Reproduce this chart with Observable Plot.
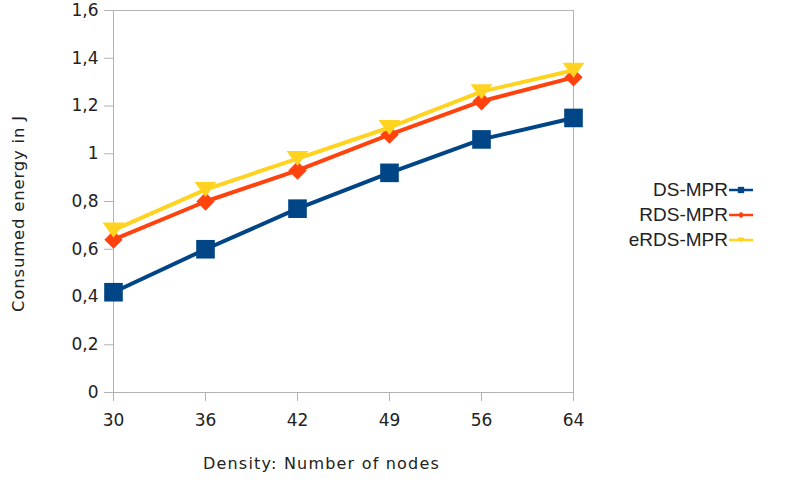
<!DOCTYPE html>
<html><head><meta charset="utf-8">
<script src="https://cdn.jsdelivr.net/npm/d3@7"></script>
<script src="https://cdn.jsdelivr.net/npm/@observablehq/plot@0.6"></script>
<style>
body{margin:0;background:#fff;}
#wrap{position:relative;width:797px;height:486px;font-family:"DejaVu Sans",sans-serif;}
#legend{position:absolute;left:550px;top:177px;width:203px;font-family:"Liberation Sans",Arial,sans-serif;font-size:19px;color:#222;}
.row{display:flex;justify-content:flex-end;align-items:center;height:25px;}
.row svg{margin-left:1px;}
</style></head>
<body><div id="wrap"><div id="legend"></div></div>
<script>
const nodes = [30, 36, 42, 49, 56, 64];
const seriesNames = ["DS-MPR", "RDS-MPR", "eRDS-MPR"];
const dsMpr   = [0.42, 0.60, 0.77, 0.92, 1.06, 1.15];
const rdsMpr  = [0.64, 0.80, 0.93, 1.08, 1.22, 1.32];
const erdsMpr = [0.68, 0.85, 0.98, 1.11, 1.26, 1.35];
const yTicks = [0, 0.2, 0.4, 0.6, 0.8, 1, 1.2, 1.4, 1.6];
const colors = ["#004586", "#ff420e", "#ffd320"];

const values = [dsMpr, rdsMpr, erdsMpr];
const data = [];
seriesNames.forEach((s, i) => nodes.forEach((n, j) => data.push({series: s, nodes: String(n), value: values[i][j]})));

const diamond = {draw(ctx, size){ const r = Math.sqrt(size)/2*1.15; ctx.moveTo(0,-r); ctx.lineTo(r,0); ctx.lineTo(0,r); ctx.lineTo(-r,0); ctx.closePath(); }};
const triDown = {draw(ctx, size){ const w = Math.sqrt(size)*0.62, h = Math.sqrt(size)*0.85; ctx.moveTo(-w,-h/2); ctx.lineTo(w,-h/2); ctx.lineTo(0,h/2); ctx.closePath(); }};
const symbols = [d3.symbolSquare, diamond, triDown];
const sizes = [10.5, 9, 10];

const fmt = d => String(d).replace(".", ",");

const marks = [
  Plot.frame({stroke: "#b3b3b3"}),
  Plot.axisY({ticks: yTicks, tickSize: 9, tickPadding: 6, tickFormat: fmt, stroke: "#b3b3b3", fontSize: 17, label: null}),
  Plot.axisX({tickSize: 9, tickPadding: 12, stroke: "#b3b3b3", fontSize: 17, label: null}),
  Plot.text(["Consumed energy in J"], {frameAnchor: "left", textAnchor: "middle", dx: -95, dy: 12, rotate: -90, fontSize: 16.5, fill: "#222", style: {letterSpacing: "0.6px"}}),
  Plot.text(["Density: Number of nodes"], {frameAnchor: "bottom", textAnchor: "middle", dx: -22, dy: 76, fontSize: 16, fill: "#222"})
];
seriesNames.forEach((s, i) => {
  const sub = data.filter(d => d.series === s);
  marks.push(Plot.line(sub, {x: "nodes", y: "value", stroke: colors[i], strokeWidth: 4}));
  marks.push(Plot.dot(sub, {x: "nodes", y: "value", fill: colors[i], symbol: symbols[i], r: sizes[i], stroke: "none"}));
});

const chart = Plot.plot({
  width: 797, height: 486,
  marginLeft: 113, marginRight: 224, marginTop: 10, marginBottom: 94,
  style: {fontFamily: "DejaVu Sans, sans-serif", color: "#222", background: "#fff"},
  x: {type: "point", domain: nodes.map(String), padding: 0},
  y: {domain: [0, 1.6]},
  marks
});
document.getElementById("wrap").prepend(chart);
chart.querySelectorAll("text").forEach(t => { if (t.textContent === "Density: Number of nodes") t.style.letterSpacing = "1.2px"; if (t.textContent === "Consumed energy in J") t.style.letterSpacing = "0.8px"; });

const leg = document.getElementById("legend");
seriesNames.forEach((s, i) => {
  const row = document.createElement("div");
  row.className = "row";
  const sym = d3.symbol(symbols[i], [40, 34, 36][i])();
  row.innerHTML = `<span>${s}</span><svg width="24" height="16"><line x1="0" x2="24" y1="8" y2="8" stroke="${colors[i]}" stroke-width="2.5"/><path transform="translate(12,8)" d="${sym}" fill="${colors[i]}"/></svg>`;
  leg.appendChild(row);
});
</script></body></html>
